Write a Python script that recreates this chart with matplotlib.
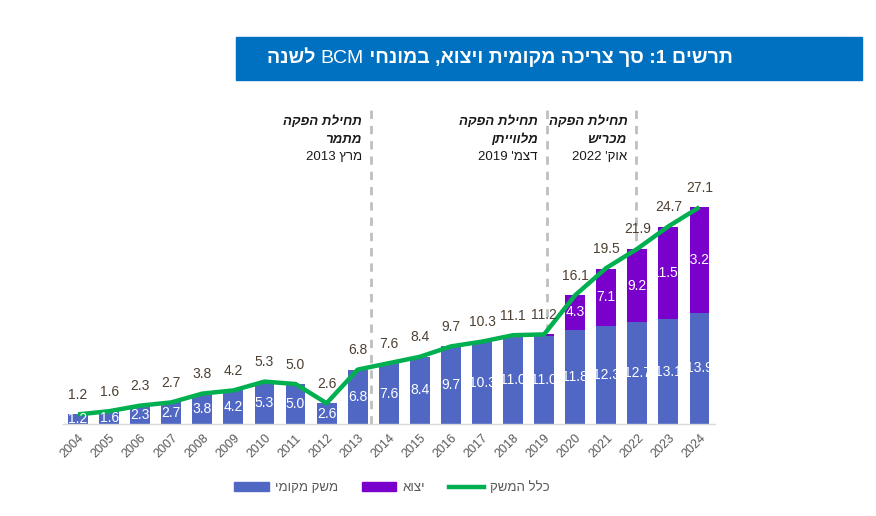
import numpy as np
import matplotlib
matplotlib.use("Agg")
import matplotlib.pyplot as plt
from matplotlib.patches import Patch, Rectangle
from matplotlib.lines import Line2D

plt.rcParams['font.family'] = ['Liberation Sans', 'DejaVu Sans']

years = [str(y) for y in range(2004, 2025)]
domestic = [1.2, 1.6, 2.3, 2.7, 3.8, 4.2, 5.3, 5.0, 2.6, 6.8, 7.6, 8.4, 9.7, 10.3, 11.0, 11.0, 11.8, 12.3, 12.7, 13.1, 13.9]
export = [0, 0, 0, 0, 0, 0, 0, 0, 0, 0, 0, 0, 0, 0, 0.1, 0.2, 4.3, 7.1, 9.2, 11.56, 13.26]
total = [1.2, 1.6, 2.3, 2.7, 3.8, 4.2, 5.3, 5.0, 2.6, 6.8, 7.6, 8.4, 9.7, 10.3, 11.1, 11.2, 16.1, 19.5, 21.9, 24.7, 27.1]

# start-of-production events: position on the year axis, field name, date
event_x = [9.42, 15.08, 17.97]
event_field = ['מתמר', 'מלווייתן', 'מכריש']
event_date = ['מרץ 2013', "דצמ' 2019", "אוק' 2022"]
event_head = 'תחילת הפקה'

title_txt = 'תרשים 1: סך צריכה מקומית ויצוא, במונחי BCM לשנה'
leg_labels = ['משק מקומי', 'יצוא', 'כלל המשק']

c_dom = '#5068C4'
c_exp = '#7A00CC'
c_tot = '#00B050'
c_lab = '#4D4033'
c_gray = '#595959'


def rtl(s):
    # crude visual reordering for hebrew text (matplotlib draws left to right)
    out = []
    for w in s.split(' '):
        if any('\u0590' <= c <= '\u05FF' for c in w):
            out.append(w[::-1])
        else:
            core = w.rstrip(':,.')
            out.append(w[len(core):][::-1] + core)
    return ' '.join(out[::-1])


fig = plt.figure(figsize=(8.76, 5.16), dpi=100)
ax = fig.add_axes([62.5 / 876, 92 / 516, 652.5 / 876, 320 / 516])

x = np.arange(len(years))
w = 0.64
bars_d = ax.bar(x, domestic, w, color=c_dom, zorder=2)
bars_e = ax.bar(x, export, w, bottom=domestic, color=c_exp, zorder=2)
ax.plot(x, total, color=c_tot, lw=3.2, zorder=3, solid_capstyle='butt')

for i in range(len(x)):
    t = ax.text(x[i], domestic[i] / 2, '%.1f' % domestic[i], ha='center', va='center',
                color='white', fontsize=10, zorder=4)
    t.set_clip_path(bars_d[i])
    if export[i] >= 1:
        s = ('%.2f' % export[i]) if export[i] * 10 % 1 > 0.01 else ('%.1f' % export[i])
        t = ax.text(x[i], domestic[i] + export[i] / 2, s, ha='center', va='center',
                    color='white', fontsize=10, zorder=4)
        t.set_clip_path(bars_e[i])
    ax.annotate('%.1f' % total[i], (x[i], total[i]), xytext=(0, 14), textcoords='offset points',
                ha='center', va='center', color=c_lab, fontsize=10, zorder=4)

ax.vlines(event_x, 0, 39.3, colors='#BFBFBF', linestyles=(0, (3, 2.5)), lw=2, zorder=0)
for ex, fld, dt in zip(event_x, event_field, event_date):
    ax.annotate(rtl(event_head), (ex, 37.75), xytext=(-6.5, 0), textcoords='offset points',
                ha='right', va='center', fontsize=9.5, fontweight='bold', fontstyle='italic', color='#1a1a1a')
    ax.annotate(rtl(fld), (ex, 35.5), xytext=(-6.5, 0), textcoords='offset points',
                ha='right', va='center', fontsize=9.5, fontweight='bold', fontstyle='italic', color='#1a1a1a')
    ax.annotate(rtl(dt), (ex, 33.35), xytext=(-6.5, 0), textcoords='offset points',
                ha='right', va='center', fontsize=9.5, color='#1a1a1a')

ax.set_xlim(-0.5, 20.5)
ax.set_ylim(0, 40)
ax.set_xticks(x)
ax.set_xticklabels(years, rotation=45, ha='right', rotation_mode='anchor', color=c_gray, fontsize=9)
ax.tick_params(axis='x', length=0, pad=6)
ax.set_yticks([])
for sp in ['top', 'left', 'right']:
    ax.spines[sp].set_visible(False)
ax.spines['bottom'].set_color('#D9D9D9')
ax.spines['bottom'].set_linewidth(1)

# title box
fig.patches.append(Rectangle((236 / 876, 1 - 80 / 516), 626 / 876, 43 / 516,
                             transform=fig.transFigure, color='#0070C0', zorder=0))
vis = rtl(title_txt)
left, rest = vis.split('BCM')
ty = 1 - 58.5 / 516
r = fig.canvas.get_renderer()
t1 = fig.text(733 / 876, ty, rest, ha='right', va='center', color='white', fontsize=14, fontweight='bold')
bb = t1.get_window_extent(r)
t2 = fig.text(bb.x0 / 876, ty, 'BCM', ha='right', va='center', color='white', fontsize=14)
bb = t2.get_window_extent(r)
fig.text(bb.x0 / 876, ty, left, ha='right', va='center', color='white', fontsize=14, fontweight='bold')

handles = [Patch(color=c_dom), Patch(color=c_exp), Line2D([], [], color=c_tot, lw=3.2)]
fig.legend(handles, [rtl(s) for s in leg_labels], loc='center', bbox_to_anchor=(392 / 876, 1 - 488 / 516),
           ncol=3, frameon=False, fontsize=9.5, handlelength=2.6, handletextpad=0.5,
           columnspacing=1.8, labelcolor=c_gray)

fig.savefig('out.png', dpi=100)
